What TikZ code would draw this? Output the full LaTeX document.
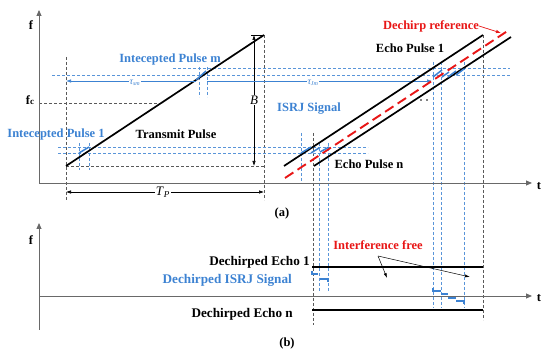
\documentclass[tikz,border=0pt]{standalone}
\usepackage{fontspec}
\setmainfont{Liberation Serif}
\usetikzlibrary{arrows.meta}
\definecolor{jblue}{RGB}{60,130,210}
\definecolor{jred}{RGB}{232,22,22}
\definecolor{axgray}{RGB}{105,105,105}
\begin{document}
\begin{tikzpicture}[x=1pt,y=-1pt,
  lbl/.style={font=\fontsize{12.5}{14}\selectfont\bfseries, inner sep=0pt},
  blbl/.style={lbl,text=jblue},
  rlbl/.style={lbl,text=jred},
  dlbl/.style={font=\fontsize{13.2}{15}\selectfont\bfseries, inner sep=0pt},
  axis/.style={axgray,line width=0.9pt,-{Triangle[length=6pt,width=5pt]}},
  pulse/.style={line width=1.7pt,black},
  refline/.style={line width=1.9pt,jred,dash pattern=on 10pt off 5pt},
  gdash/.style={black!65,line width=0.6pt,dash pattern=on 3pt off 2pt},
  bdash/.style={jblue!85,line width=0.6pt,dash pattern=on 3pt off 2pt},
  jam/.style={jblue,line width=1.5pt},
  dim/.style={black,line width=0.6pt,{Latex[length=5pt,width=3.5pt]}-{Latex[length=5pt,width=3.5pt]}},
  tauarr/.style={jblue,line width=0.7pt,-{Latex[length=5pt,width=3.5pt]}},
  pointer/.style={black,line width=0.5pt,-{Latex[length=5pt,width=3pt]}},
  taulbl/.style={font=\fontsize{9.5}{10}\selectfont\itshape,text=jblue,fill=white,inner sep=1pt},
]
\useasboundingbox (0,0) rectangle (550,355);

% ---------- guide lines (top panel) ----------
\draw[gdash] (66,57) -- (66,200);
\draw[gdash] (264,35) -- (264,200);
\draw[gdash] (39,103) -- (160,103);
\draw[gdash] (66,166) -- (264,166);
\draw[gdash] (313,133) -- (313,325);
\draw[gdash] (483,35) -- (483,320);

\draw[bdash] (52,75) -- (510,75);
\draw[bdash] (173,68) -- (510,68);
\draw[bdash] (58,147) -- (368,147);
\draw[bdash] (58,153) -- (368,153);
\draw[bdash] (199,67) -- (199,97);
\draw[bdash] (207,67) -- (207,97);
\draw[bdash] (79,143) -- (79,170);
\draw[bdash] (89,143) -- (89,170);
\draw[bdash] (301,133) -- (301,183);
\draw[bdash] (319,143) -- (319,292);
\draw[bdash] (328,143) -- (328,292);
\draw[bdash] (433,62) -- (433,308);
\draw[bdash] (441,62) -- (441,308);
\draw[bdash] (464,62) -- (464,308);

% ---------- axes (top) ----------
\coordinate (O1) at (39,183);
\coordinate (F1) at (39,10);
\coordinate (T1) at (532,183);
\draw[axis] (O1) -- (F1);
\draw[axis] (O1) -- (T1);
\node[lbl] (flab1) at (31,25) {f};
\node[lbl] (fclab) at (30,100) {f{\fontsize{9}{9}\selectfont c}};
\node[lbl] (tlab1) at (539,186) {t};

% ---------- transmit pulse ----------
\coordinate (tp0) at (66,166);
\coordinate (tp1) at (264,35);
\draw[pulse] (tp0) -- (tp1);

% bandwidth B
\coordinate (Btop) at (254,35);
\coordinate (Bbot) at (254,166);
\draw[black,line width=0.6pt] (251,35) -- (tp1);
\draw[dim] (Btop) -- (Bbot);
\node[font=\fontsize{13}{14}\selectfont\itshape,fill=white,inner sep=1pt] (B) at (254,100) {B};

% pulse width Tp
\coordinate (Tpl) at (66,192);
\coordinate (Tpr) at (264,192);
\draw[dim] (Tpl) -- (Tpr);
\node[font=\fontsize{13}{14}\selectfont,fill=white,inner sep=1pt] (TP) at (163,192) {\textit{T}\textsubscript{\textit{P}}};

% intercepted pulses
\draw[jam] (196,80) -- (206,71);
\draw[jam] (79,153) -- (89,147);

% tau arrows
\coordinate (pm) at (196,81);
\coordinate (pmr) at (207,81);
\coordinate (tsl) at (66,81);
\coordinate (tjr) at (432,81);
\draw[tauarr] (pm) -- (tsl);
\draw[tauarr] (pmr) -- (tjr);
\node[taulbl] (tsm) at (135,83) {τ\textsubscript{\fontsize{6}{6}\selectfont sm}};
\node[taulbl] (tjm) at (313,83) {τ\textsubscript{\fontsize{6}{6}\selectfont Jm}};

% ---------- echoes ----------
\coordinate (e10) at (284,166);
\coordinate (e11) at (483,35);
\coordinate (en0) at (314,166);
\coordinate (en1) at (511,37);
\coordinate (r0) at (285,178);
\coordinate (r1) at (509,30);
\draw[pulse] (e10) -- (e11);
\draw[pulse] (en0) -- (en1);
\draw[refline] (r0) -- (r1);

% ISRJ segments
\draw[jam] (301,153) -- (311,147);
\draw[jam] (311,153) -- (319,148);
\draw[jam] (320,152) -- (329,147);
\draw[jam] (433,77) -- (442,70);
\draw[jam] (442,77) -- (449,72);
\draw[jam] (448,77) -- (456,71);
\draw[jam] (456,75) -- (464,69);

% labels top panel
\node[blbl] (ipm) at (170,59) {Intecepted Pulse m};
\node[blbl] (ip1) at (56,134) {Intecepted Pulse 1};
\node[lbl] (tx) at (176,134) {Transmit Pulse};
\node[rlbl] (dref) at (431,26) {Dechirp reference};
\coordinate (drtip) at (501,33);
\draw[jred,line width=0.7pt,-{Latex[length=5pt,width=3.5pt]}] (dref.east) -- (drtip);
\node[lbl] (ep1) at (410,48) {Echo Pulse 1};
\node[blbl] (isrj) at (309,109) {ISRJ Signal};
\node[lbl] (epn) at (369,164) {Echo Pulse n};
\fill (421,100) circle (0.9pt);
\fill (427,100) circle (0.9pt);
\node[lbl] (capa) at (282,213) {(a)};

% ---------- bottom panel ----------
\coordinate (O2) at (39,330);
\coordinate (F2) at (39,223);
\coordinate (T2s) at (39,296);
\coordinate (T2) at (532,296);
\draw[axis] (O2) -- (F2);
\draw[axis] (T2s) -- (T2);
\node[lbl] (flab2) at (31,240) {f};
\node[lbl] (tlab2) at (539,298) {t};

\coordinate (d1a) at (312,267);
\coordinate (d1b) at (483,267);
\coordinate (dna) at (312,310);
\coordinate (dnb) at (483,310);
\draw[pulse] (d1a) -- (d1b);
\draw[pulse] (dna) -- (dnb);

\draw[jblue,line width=1.3pt] (312,271) -- (312,274) -- (318,274);
\draw[jblue,line width=1.3pt] (320,279) -- (328,279) -- (328,282);
\draw[jblue,line width=1.3pt] (433,288) -- (433,291) -- (441,291);
\draw[jblue,line width=1.3pt] (441,294) -- (448,294);
\draw[jblue,line width=1.3pt] (448,298) -- (456,298);
\draw[jblue,line width=1.3pt] (456,301) -- (464,301) -- (464,304);

\node[dlbl,anchor=east] (de1) at (310,262) {Dechirped Echo 1};
\node[dlbl,text=jblue,anchor=east] (dis) at (292,280) {Dechirped ISRJ Signal};
\node[dlbl,anchor=east] (den) at (293,314) {Dechirped Echo n};

\node[rlbl] (ifree) at (378,245) {Interference free};
\coordinate (ifs) at (378,256);
\coordinate (if1) at (387,278);
\coordinate (if2) at (470,277);
\draw[pointer] (ifs) -- (if1);
\draw[pointer] (ifs) -- (if2);

\node[lbl] (capb) at (287,343) {(b)};
\end{tikzpicture}
\end{document}
